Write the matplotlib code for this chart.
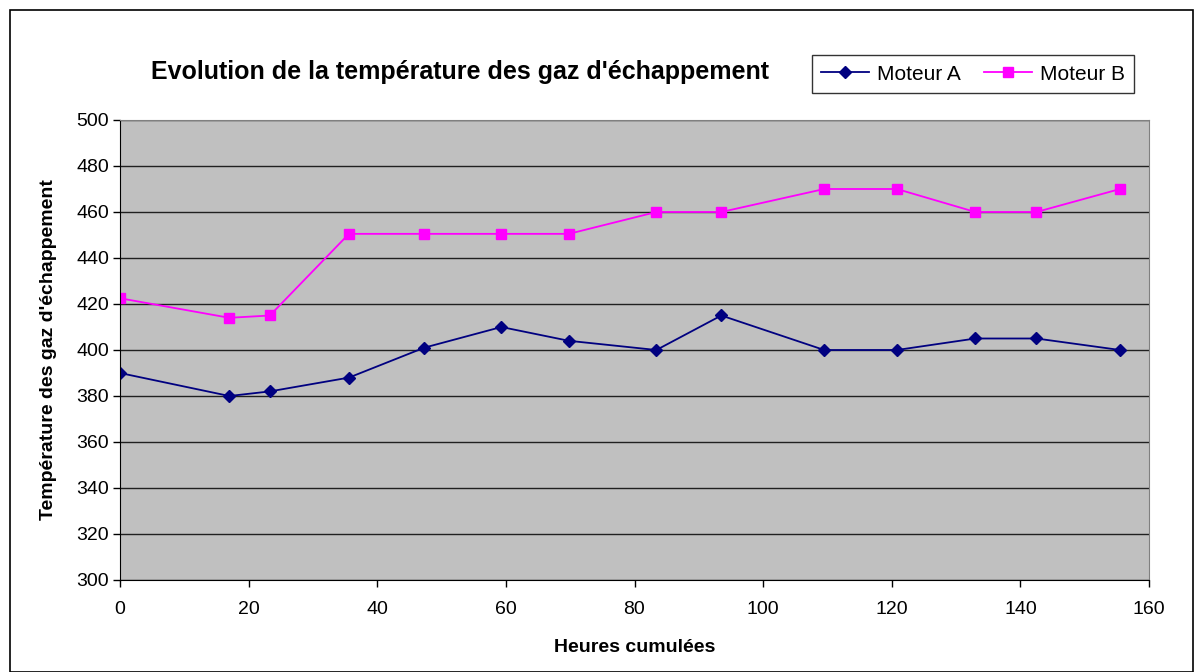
import matplotlib
matplotlib.use('Agg')
import matplotlib.pyplot as plt
from matplotlib.patches import Rectangle

# heures cumulées
heures = [0, 17, 23.3, 35.6, 47.3, 59.3, 69.8, 83.4, 93.5, 109.5, 120.8, 133, 142.5, 155.5]
# températures
moteur_a = [390, 380, 382, 388, 401, 410, 404, 400, 415, 400, 400, 405, 405, 400]
moteur_b = [422.5, 414, 415, 450.5, 450.5, 450.5, 450.5, 460, 460, 470, 470, 460, 460, 470]

plt.rcParams['font.family'] = ['Liberation Sans', 'DejaVu Sans']

fig = plt.figure(figsize=(11.94, 6.72), dpi=100)
# cadre autour du graphique
fig.patches.append(Rectangle((10 / 1194, 0), 1 - 10 / 1194 - 0.001, 1 - 10 / 672,
                             transform=fig.transFigure, fill=False,
                             edgecolor='black', linewidth=1.2))

ax = fig.add_axes([120 / 1194, 92 / 672, 1029 / 1194, 460 / 672])
ax.set_facecolor('#c0c0c0')

ax.plot(heures, moteur_a, color='#000080', marker='D', markersize=6.5,
        linewidth=1.3, label='Moteur A')
ax.plot(heures, moteur_b, color='#ff00ff', marker='s', markersize=6.5,
        linewidth=1.3, label='Moteur B')

ax.set_xlim(0, 160)
ax.set_ylim(300, 500)
ax.set_xticks(range(0, 161, 20))
ax.set_yticks(range(300, 501, 20))
ax.yaxis.grid(True, color='#202020', linewidth=1)
ax.set_axisbelow(True)
ax.tick_params(labelsize=14, direction='out', length=5, width=1)
ax.tick_params(axis='x', pad=10)
ax.tick_params(axis='y', pad=3)

for side in ['top', 'right']:
    ax.spines[side].set_color('#808080')
for side in ['left', 'bottom']:
    ax.spines[side].set_color('black')

ax.set_xlabel('Heures cumulées', fontsize=14, fontweight='bold', labelpad=15)
ax.set_ylabel("Température des gaz d'échappement", fontsize=14,
              fontweight='bold', labelpad=14)

fig.text(460 / 1194, 1 - 72 / 672, "Evolution de la température des gaz d'échappement",
         fontsize=18, fontweight='bold', ha='center', va='center')

leg = fig.legend(loc='center', bbox_to_anchor=(973 / 1194, 1 - 74 / 672), ncol=2,
                 fontsize=15, frameon=True, fancybox=False, edgecolor='black',
                 handlelength=2.3, handletextpad=0.4, columnspacing=1.1,
                 borderpad=0.45)
leg.get_frame().set_linewidth(1)

fig.savefig('out.png', dpi=100)
